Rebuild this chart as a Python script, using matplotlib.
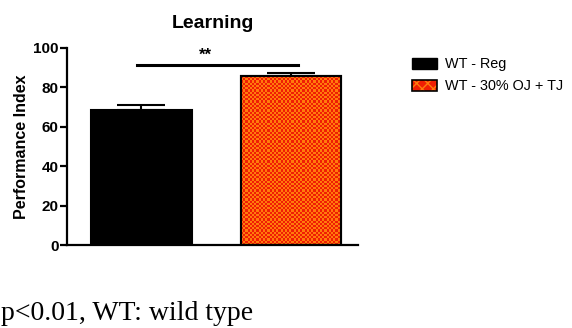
import numpy as np
import matplotlib
matplotlib.use("Agg")
import matplotlib.pyplot as plt
from matplotlib.patches import Patch
from matplotlib.colors import ListedColormap
from matplotlib.legend_handler import HandlerTuple

# --- data ---
groups = ["WT - Reg", "WT - 30% OJ + TJ"]
means = [68.5, 85.5]
sem_up = [2.5, 2.0]
sig_y = 91.5
sig_label = "**"
title = "Learning"
ylabel = "Performance Index"
yticks = [0, 20, 40, 60, 80, 100]
footnote = "p<0.01, WT: wild type"

RED = "#f01e04"
ORANGE = "#ff7c0c"

plt.rcParams["font.family"] = ["Liberation Sans", "DejaVu Sans"]

fig = plt.figure(figsize=(5.72, 3.28), dpi=100)
ax = fig.add_axes([0.117, 0.253, 0.509, 0.601])

x = np.arange(len(groups))
width = 0.67
bars = ax.bar(x, means, width=width, color=["black", RED],
              edgecolor="black", linewidth=1.5, zorder=2)

# checkerboard fill on the second bar, clipped to the bar
b = bars[1]
x0, y0 = b.get_x(), b.get_y()
w, h = b.get_width(), b.get_height()
nx = int(round(w / 0.0147))
ny = int(round(h / 1.12))
checker = (np.add.outer(np.arange(ny), np.arange(nx)) % 2)
im = ax.imshow(checker, cmap=ListedColormap([RED, ORANGE]), interpolation="nearest",
               extent=(x0, x0 + w, y0, y0 + h), aspect="auto", zorder=2.5)
im.set_clip_path(b)
# redraw the edge on top
ax.bar(x[1], means[1], width=width, color="none", edgecolor="black",
       linewidth=1.5, zorder=3)

# upper-only error bars
ax.errorbar(x, means, yerr=[np.zeros(len(sem_up)), sem_up], fmt="none",
            ecolor="black", elinewidth=1.5, capsize=17.5, capthick=1.5, zorder=1)

# significance line
ax.plot([-0.03, 1.047], [sig_y, sig_y], color="black", lw=2.2, clip_on=False)
ax.text(0.43, sig_y + 1.0, sig_label, ha="center", va="bottom",
        fontsize=12, fontweight="bold")

ax.set_xlim(-0.498, 1.448)
ax.set_ylim(0, 100)
ax.set_yticks(yticks)
ax.set_yticklabels([str(t) for t in yticks], fontweight="bold", fontsize=11)
ax.set_xticks([])
ax.set_ylabel(ylabel, fontweight="bold", fontsize=11.5, labelpad=3)
ax.set_title(title, fontweight="bold", fontsize=14, pad=14)

for s in ["top", "right"]:
    ax.spines[s].set_visible(False)
for s in ["left", "bottom"]:
    ax.spines[s].set_linewidth(1.6)
ax.tick_params(axis="y", direction="out", length=5, width=1.6, pad=1)

# legend
h1 = Patch(facecolor="black", edgecolor="black")
h2 = (Patch(facecolor=RED, edgecolor=ORANGE, hatch="xxx", linewidth=0),
      Patch(facecolor="none", edgecolor="black", linewidth=1.2))
fig.legend([h1, h2], groups, loc="upper left", bbox_to_anchor=(0.698, 0.865),
           frameon=False, fontsize=10.4, handlelength=1.7, handleheight=0.82,
           handletextpad=0.6, labelspacing=0.55,
           handler_map={tuple: HandlerTuple(ndivide=1)})

fig.text(0.002, 0.025, footnote, family=["Liberation Serif", "DejaVu Serif"],
         fontsize=20, ha="left", va="baseline")

fig.savefig("out.png", dpi=100)
